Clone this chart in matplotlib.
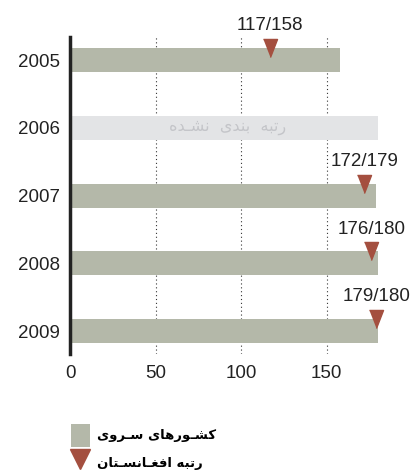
import numpy as np
import matplotlib.pyplot as plt
from matplotlib.patches import Patch
from matplotlib.lines import Line2D

# presentation forms: isolated, final, initial, medial (None = right-joining only)
FORMS = {
  '\u0627': ('\uFE8D', '\uFE8E', None, None),
  '\u0628': ('\uFE8F', '\uFE90', '\uFE91', '\uFE92'),
  '\u062A': ('\uFE95', '\uFE96', '\uFE97', '\uFE98'),
  '\u062F': ('\uFEA9', '\uFEAA', None, None),
  '\u0631': ('\uFEAD', '\uFEAE', None, None),
  '\u0633': ('\uFEB1', '\uFEB2', '\uFEB3', '\uFEB4'),
  '\u0634': ('\uFEB5', '\uFEB6', '\uFEB7', '\uFEB8'),
  '\u063A': ('\uFECD', '\uFECE', '\uFECF', '\uFED0'),
  '\u0641': ('\uFED1', '\uFED2', '\uFED3', '\uFED4'),
  '\u0646': ('\uFEE5', '\uFEE6', '\uFEE7', '\uFEE8'),
  '\u0647': ('\uFEE9', '\uFEEA', '\uFEEB', '\uFEEC'),
  '\u0648': ('\uFEED', '\uFEEE', None, None),
  '\u06A9': ('\uFB8E', '\uFB8F', '\uFB90', '\uFB91'),
  '\u06CC': ('\uFBFC', '\uFBFD', '\uFBFE', '\uFBFF'),
  '\u0640': ('\u0640', '\u0640', '\u0640', '\u0640'),
}

def dual(c):
  return c in FORMS and FORMS[c][2] is not None

def shape(s):
  out = []
  for i, c in enumerate(s):
    if c not in FORMS:
      out.append(c)
      continue
    prev = s[i-1] if i > 0 else ''
    nxt = s[i+1] if i < len(s)-1 else ''
    jp = dual(prev)
    jn = dual(c) and nxt in FORMS
    f = FORMS[c]
    if jp and jn:
      out.append(f[3])
    elif jp:
      out.append(f[1])
    elif jn:
      out.append(f[2])
    else:
      out.append(f[0])
  return ''.join(reversed(out))

years = ['2005', '2006', '2007', '2008', '2009']
countries = [158, None, 179, 180, 180]   # surveyed countries
afg_rank = [117, None, 172, 176, 179]    # Afghanistan rank
unranked_width = 180
unranked_text = 'رتبه  بندی  نشـده'
legend_labels = ['کشـورهای سـروی', 'رتبه افغـانسـتان']

bar_col = '#b4b8a9'
na_col = '#e3e4e6'
mark_col = '#a44f3f'

plt.rcParams['font.family'] = ['Liberation Sans', 'DejaVu Sans']

fig = plt.figure(figsize=(4.12, 4.74), dpi=100)
ax = fig.add_axes([0.170, 0.253, 0.81, 0.669])

h = 0.354
y = np.arange(len(years))
tri = [(-7, 9), (7, 9), (0, -9)]

for i in range(len(years)):
  if countries[i] is None:
    ax.barh(y[i], unranked_width, height=h, color=na_col, zorder=2)
    ax.text(unranked_width / 2 + 2, y[i], shape(unranked_text), ha='center', va='center',
            color='#c4c5c9', fontsize=11.5, family=['DejaVu Sans'], zorder=3)
    continue
  ax.barh(y[i], countries[i], height=h, color=bar_col, zorder=2)
  ax.plot(afg_rank[i], y[i] - h / 2, marker=tri, markersize=13, color=mark_col,
          linestyle='none', zorder=4)
  ax.annotate('%d/%d' % (afg_rank[i], countries[i]), (afg_rank[i], y[i] - h / 2),
              xytext=(0, 16), textcoords='offset points', ha='center', va='center',
              fontsize=13.5, color='#222222')

ax.set_xlim(0, 195)
ax.set_ylim(len(years) - 1 + 0.34, -0.34)
ax.set_yticks(y)
ax.set_yticklabels(years)
ax.set_xticks([0, 50, 100, 150])
ax.tick_params(length=0, labelsize=13.5, labelcolor='#222222')
ax.tick_params(axis='y', pad=7.5)
ax.tick_params(axis='x', pad=8)
for x in [50, 100, 150]:
  ax.axvline(x, color='#333333', lw=0.8, linestyle=(0, (1, 2.5)), zorder=1)
for s in ['top', 'right', 'bottom']:
  ax.spines[s].set_visible(False)
ax.spines['left'].set_linewidth(2.5)
ax.spines['left'].set_color('#222222')

handles = [Patch(facecolor=bar_col, edgecolor='none'),
           Line2D([], [], marker='v', markersize=14, color=mark_col, linestyle='none')]
leg = fig.legend(handles, [shape(t) for t in legend_labels], loc='upper left',
                 bbox_to_anchor=(0.165, 0.112), frameon=False, handlelength=1.45,
                 handleheight=2.3, handletextpad=0.55, labelspacing=0.35,
                 borderaxespad=0, borderpad=0.2,
                 prop={'family': 'DejaVu Sans', 'weight': 'bold', 'size': 9.5})

fig.savefig('out.png', dpi=100)
